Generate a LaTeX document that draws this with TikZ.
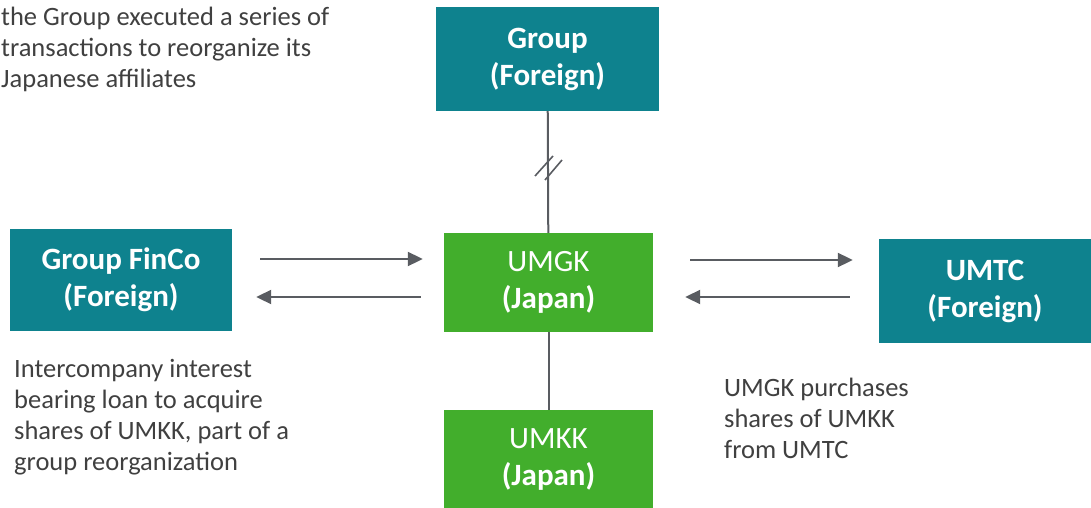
\documentclass[tikz,border=0pt]{standalone}
\usepackage{fontspec}
\setmainfont{Carlito}
\usetikzlibrary{arrows.meta}
\definecolor{foreignbox}{RGB}{14,130,142}
\definecolor{japanbox}{RGB}{66,174,44}
\definecolor{linegray}{RGB}{89,92,97}
\definecolor{txtgray}{RGB}{64,64,64}

\begin{document}
\begin{tikzpicture}[x=1pt,y=-1pt,
    entity/.style={rectangle, inner sep=0pt, text=white, align=center,
      font=\fontsize{31}{37}\selectfont},
    foreign/.style={entity, fill=foreignbox},
    japan/.style={entity, fill=japanbox, minimum width=209pt},
    flow/.style={draw=linegray, line width=2pt, -{Triangle[length=15pt,width=14pt]}},
    link/.style={draw=linegray, line width=2pt},
    note/.style={inner sep=0pt, align=left, text=txtgray,
      font=\fontsize{26.5}{31}\selectfont}]
  \useasboundingbox (0,0) rectangle (1091,508);
  % entities
  \node[foreign, minimum width=223pt, minimum height=104pt] (Group) at (547.5,59)
    {\textbf{Group}\\\textbf{(Foreign)}};
  \node[foreign, minimum width=222pt, minimum height=102pt] (FinCo) at (121,280)
    {\textbf{Group FinCo}\\\textbf{(Foreign)}};
  \node[foreign, minimum width=212pt, minimum height=104pt] (UMTC) at (985,291)
    {\textbf{UMTC}\\\textbf{(Foreign)}};
  \node[japan, minimum height=99pt] (UMGK) at (548.5,282.5) {UMGK\\\textbf{(Japan)}};
  \node[japan, minimum height=98pt] (UMKK) at (548.5,459) {UMKK\\\textbf{(Japan)}};
  % ownership lines
  \draw[link] (Group) -- (UMGK);
  \draw[link] (UMGK) -- (UMKK);
  \coordinate (brk) at (548,168);
  \draw[link, line width=1.6pt] ([shift={(-13,8)}]brk) -- ([shift={(5,-12)}]brk);
  \draw[link, line width=1.6pt] ([shift={(-3,12)}]brk) -- ([shift={(14,-8)}]brk);
  % flows
  \draw[flow, shorten <=28pt, shorten >=21pt] (FinCo.east |- 0,259) -- (UMGK.west |- 0,259);
  \draw[flow, shorten <=23pt, shorten >=24pt] (UMGK.west |- 0,297) -- (FinCo.east |- 0,297);
  \draw[flow, shorten <=37pt, shorten >=26pt] (UMGK.east |- 0,260) -- (UMTC.west |- 0,260);
  \draw[flow, shorten <=29pt, shorten >=32pt] (UMTC.west |- 0,297) -- (UMGK.east |- 0,297);
  % notes (anchored on the last line)
  \node[note, anchor=base west] (intro) at (1,88)
    {the Group executed a series of\\transactions to reorganize its\\Japanese affiliates};
  \node[note, anchor=base west] (loan) at (14,470)
    {Intercompany interest\\bearing loan to acquire\\shares of UMKK, part of a\\group reorganization};
  \node[note, anchor=base west] (purchase) at (724,458)
    {UMGK purchases\\shares of UMKK\\from UMTC};
\end{tikzpicture}
\end{document}
